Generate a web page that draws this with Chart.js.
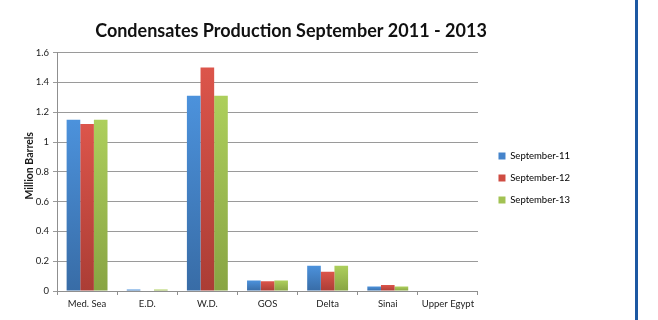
<!DOCTYPE html>
<html>
<head>
<meta charset="utf-8">
<script src="https://cdn.jsdelivr.net/npm/chart.js@4/dist/chart.umd.min.js"></script>
<style>
  html, body { margin: 0; padding: 0; background: #fff; }
  #wrap { position: relative; width: 658px; height: 320px; overflow: hidden; }
  #box { position: absolute; left: 0; top: 0; width: 582px; height: 320px; }
  #edge { position: absolute; left: 635px; top: 0; width: 3px; height: 320px; background: #1d58a2; }
</style>
</head>
<body>
<div id="wrap">
  <div id="box"><canvas id="c"></canvas></div>
  <div id="edge"></div>
</div>
<script>
// Condensates production by region, million barrels
const categories = ['Med. Sea', 'E.D.', 'W.D.', 'GOS', 'Delta', 'Sinai', 'Upper Egypt'];
const seriesNames = ['September-11', 'September-12', 'September-13'];
const sep11 = [1.15, 0.01, 1.31, 0.07, 0.17, 0.03, 0];
const sep12 = [1.12, 0, 1.5, 0.065, 0.13, 0.04, 0];
const sep13 = [1.15, 0.01, 1.31, 0.07, 0.17, 0.03, 0];
const yTicks = [0, 0.2, 0.4, 0.6, 0.8, 1, 1.2, 1.4, 1.6];

const FONT = 'Lato, "Open Sans", sans-serif';

// top (light) and bottom (dark) shade of each series
const shades = [
  { top: '#4c92dc', bottom: '#386ca6', flat: '#4584cb' },
  { top: '#dc554b', bottom: '#ab3d35', flat: '#cf4c42' },
  { top: '#adcf5c', bottom: '#88a443', flat: '#a2c253' }
];

function barFill(idx) {
  return function (ctx) {
    const chart = ctx.chart;
    const y = chart.scales && chart.scales.y;
    if (!chart.chartArea || !y || !ctx.parsed) return shades[idx].flat;
    const top = y.getPixelForValue(ctx.parsed.y);
    const base = y.getPixelForValue(0);
    if (base - top < 1) return shades[idx].flat;
    const g = chart.ctx.createLinearGradient(0, top, 0, base);
    g.addColorStop(0, shades[idx].top);
    g.addColorStop(1, shades[idx].bottom);
    return g;
  };
}

// rotated y-axis caption, laid over the tick-label column
const yCaption = {
  id: 'yCaption',
  afterDraw(chart) {
    const { ctx, chartArea } = chart;
    ctx.save();
    ctx.translate(30, (chartArea.top + chartArea.bottom) / 2 - 6);
    ctx.rotate(-Math.PI / 2);
    ctx.font = 'bold 10.5px ' + FONT;
    ctx.fillStyle = '#1a1a1a';
    ctx.textAlign = 'center';
    ctx.textBaseline = 'middle';
    ctx.fillText('Million Barrels', 0, 0);
    ctx.restore();
  }
};

// nudge the legend block a little right and down from its default slot
const legendNudge = {
  id: 'legendNudge',
  afterLayout(chart) {
    const lg = chart.legend;
    if (!lg) return;
    lg.left += 8; lg.right += 8;
    lg.top += 18; lg.bottom += 18;
  }
};

const values = [sep11, sep12, sep13];

new Chart(document.getElementById('c'), {
  type: 'bar',
  data: {
    labels: categories,
    datasets: seriesNames.map((name, i) => ({
      label: name,
      data: values[i],
      backgroundColor: barFill(i),
      borderWidth: 0,
      barPercentage: 1,
      categoryPercentage: 0.68
    }))
  },
  options: {
    responsive: true,
    maintainAspectRatio: false,
    animation: false,
    layout: { padding: { left: 10, right: 10, top: 0, bottom: 0 } },
    plugins: {
      title: {
        display: true,
        text: 'Condensates Production September 2011 - 2013',
        color: '#111',
        font: { family: FONT, size: 18, weight: 'bold' },
        padding: { top: 20, bottom: 11 }
      },
      legend: {
        position: 'right',
        labels: {
          color: '#222',
          font: { family: FONT, size: 9.5 },
          boxWidth: 7,
          boxHeight: 7,
          padding: 12.5,
          generateLabels(chart) {
            return chart.data.datasets.map((ds, i) => ({
              text: ds.label,
              fillStyle: shades[i].flat,
              strokeStyle: shades[i].flat,
              lineWidth: 0,
              hidden: false,
              datasetIndex: i
            }));
          }
        }
      },
      tooltip: { enabled: false }
    },
    scales: {
      x: {
        grid: { display: true, drawOnChartArea: false, drawTicks: true, tickLength: 4, color: '#8f8f8f', offset: true },
        border: { color: '#8f8f8f' },
        ticks: { color: '#222', font: { family: FONT, size: 9.5 }, padding: 3, maxRotation: 0, autoSkip: false },
        afterFit(s) { s.height = 29; }
      },
      y: {
        min: 0,
        max: 1.6,
        afterBuildTicks(s) { s.ticks = yTicks.map(v => ({ value: v })); },
        grid: { color: '#9a9a9a', lineWidth: 1, tickLength: 4 },
        border: { color: '#8f8f8f' },
        ticks: { color: '#222', font: { family: FONT, size: 9.5 }, padding: 4,
                 callback: v => String(Math.round(v * 10) / 10) },
        afterFit(s) { s.width = 47; }
      }
    }
  },
  plugins: [yCaption, legendNudge]
});
</script>
</body>
</html>
